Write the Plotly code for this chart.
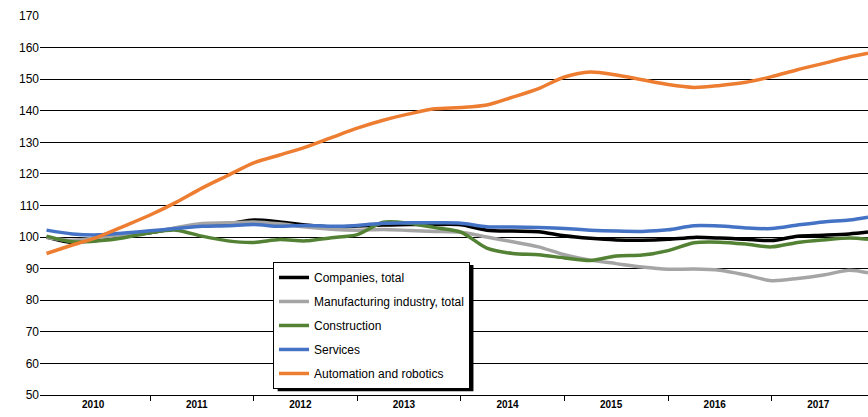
import plotly.graph_objects as go

# quarterly time points (fractional years)
t = [2010 + i * 0.25 for i in range(32)] + [2017.93]

companies = [100, 98.3, 99.5, 100.5, 101.4, 102.8, 104, 104.2, 105.4, 104.8, 103.8, 103.2,
             103.5, 103.8, 104, 104, 103.9, 102.2, 101.9, 101.7, 100.4, 99.6, 99.1, 99,
             99.3, 99.9, 99.7, 99.3, 98.9, 100.3, 100.6, 101, 101.6]
manufacturing = [99.9, 99, 99.8, 100.7, 101.5, 103, 104.3, 104.5, 104.8, 104.2, 103.2, 102.5,
                 102.2, 102.4, 102.1, 101.8, 101.5, 100, 98.5, 96.9, 94.4, 92.7, 91.6, 90.5,
                 89.8, 89.9, 89.5, 88, 86.2, 86.9, 88, 89.5, 88.7]
construction = [100.3, 98.5, 98.8, 99.8, 101.4, 102.2, 100.3, 98.8, 98.3, 99.2, 98.8, 99.8,
                100.8, 104.7, 104.4, 103, 101.6, 96.5, 94.8, 94.4, 93.4, 92.6, 94, 94.3,
                95.7, 98.2, 98.4, 97.8, 96.9, 98.3, 99.1, 99.7, 99.3]
services = [102.2, 101, 100.7, 101.3, 102, 102.7, 103.4, 103.6, 104, 103.4, 103.7, 103.4,
            103.7, 104.4, 104.5, 104.5, 104.4, 103.3, 103.2, 103, 102.7, 102.2, 101.9, 101.8,
            102.3, 103.6, 103.5, 102.9, 102.7, 103.8, 104.8, 105.4, 106.3]
automation = [94.8, 97.5, 100.1, 103.5, 107, 111, 115.5, 119.5, 123.5, 126, 128.5, 131.5,
              134.5, 137, 139, 140.6, 141, 141.8, 144.3, 147, 150.7, 152.3, 151.3, 149.8,
              148.3, 147.4, 148, 149, 150.8, 153, 155, 157, 158.2]

names = ["Companies, total", "Manufacturing industry, total", "Construction",
         "Services", "Automation and robotics"]
colors = ["#000000", "#A5A5A5", "#548235", "#4472C4", "#ED7D31"]
series = [companies, manufacturing, construction, services, automation]

years = list(range(2010, 2018))
year_labels = [str(y) for y in years]
y_ticks = list(range(50, 171, 10))

fig = go.Figure()
for i, (nm, col, vals) in enumerate(zip(names, colors, series)):
    fig.add_trace(go.Scatter(
        x=t, y=vals, name=nm, mode="lines",
        line=dict(color=col, width=3.5, shape="spline", smoothing=0.8),
        legendgroup=str(i),
    ))

fig.update_layout(
    width=868, height=417,
    margin=dict(l=40, r=0, t=16, b=22),
    paper_bgcolor="white", plot_bgcolor="white",
    font=dict(family="Liberation Sans, Arial, sans-serif", color="black"),
    showlegend=True,
    legend=dict(
        x=0.2814, y=0.351, xanchor="left", yanchor="top",
        bgcolor="white", bordercolor="black", borderwidth=1,
        font=dict(size=12, color="black"),
        tracegroupgap=5, itemwidth=30,
    ),
    xaxis=dict(
        range=[2009.937, 2017.93],
        tickvals=[y + 0.45 for y in years], ticktext=year_labels,
        ticks="", showgrid=False, zeroline=False,
        showline=True, linecolor="black", linewidth=1,
        tickfont=dict(size=10, color="black", weight="bold"),
        minor=dict(tickvals=years[1:], ticks="outside", ticklen=5,
                   tickcolor="black", tickwidth=1, showgrid=False),
    ),
    yaxis=dict(
        range=[50, 170], tickvals=y_ticks,
        showgrid=True, gridcolor="black", gridwidth=1.4,
        zeroline=False, showline=False, ticks="",
        tickfont=dict(size=12, color="black"),
    ),
    shapes=[
        dict(type="line", xref="paper", yref="y", x0=0, x1=1, y0=170, y1=170,
             line=dict(color="white", width=3), layer="between"),
        dict(type="rect", xref="paper", yref="paper", x0=0.287, x1=0.5235,
             y0=0.010, y1=0.343, fillcolor="black", line=dict(width=0), layer="above"),
    ],
)

fig.write_html("out.html", config={"displayModeBar": False},
               post_script="document.body.style.margin='0';")
